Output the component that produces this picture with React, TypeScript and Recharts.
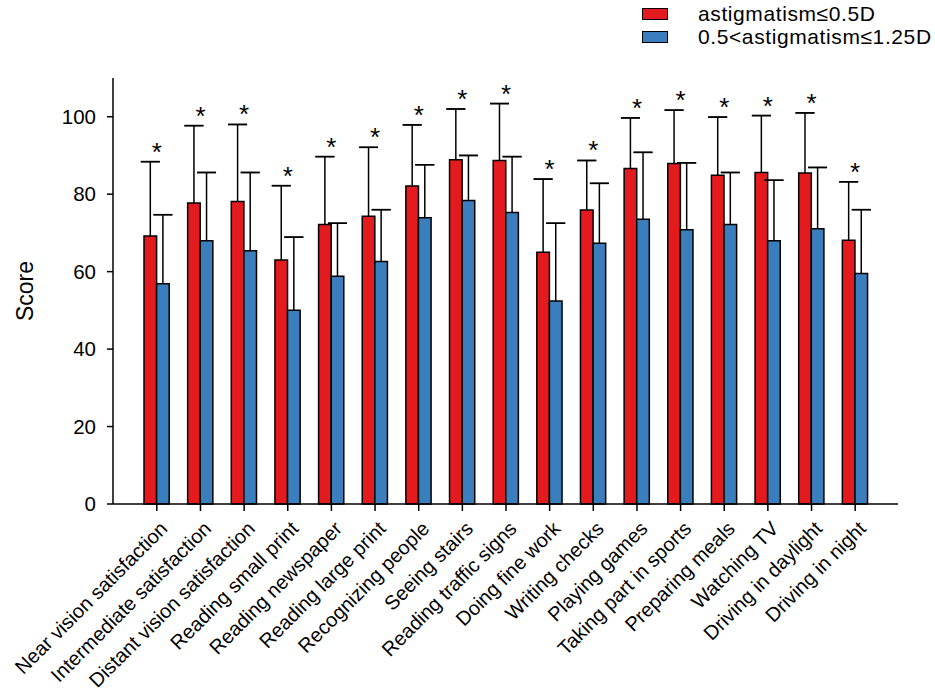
import React from 'react';
import { ComposedChart, Bar, Line, XAxis, YAxis, ErrorBar, LabelList } from 'recharts';

const categories = [
  'Near vision satisfaction',
  'Intermediate satisfaction',
  'Distant vision satisfaction',
  'Reading small print',
  'Reading newspaper',
  'Reading large print',
  'Recognizing people',
  'Seeing stairs',
  'Reading traffic signs',
  'Doing fine work',
  'Writing checks',
  'Playing games',
  'Taking part in sports',
  'Preparing meals',
  'Watching TV',
  'Driving in daylight',
  'Driving in night',
];

const lowMean = [69.2, 77.7, 78.1, 63.0, 72.2, 74.3, 82.1, 88.9, 88.7, 65.0, 75.9, 86.6, 87.9, 84.9, 85.6, 85.5, 68.1];
const lowSD = [19.2, 20.0, 19.9, 19.2, 17.5, 17.8, 15.8, 13.1, 14.7, 18.9, 12.8, 13.1, 13.8, 15.0, 14.7, 15.5, 15.1];
const highMean = [56.9, 68.0, 65.4, 50.0, 58.8, 62.6, 73.9, 78.4, 75.3, 52.4, 67.3, 73.5, 70.8, 72.2, 68.0, 71.1, 59.5];
const highSD = [17.8, 17.6, 20.2, 18.9, 13.7, 13.4, 13.7, 11.6, 14.4, 20.1, 15.5, 17.3, 17.3, 13.4, 15.6, 15.8, 16.5];

const yTicks = [0, 20, 40, 60, 80, 100];
const seriesNames = ['astigmatism≤0.5D', '0.5<astigmatism≤1.25D'];
const seriesColors = ['#E41B1E', '#3A7EBE'];

const data = categories.map((name, i) => ({
  name,
  low: lowMean[i],
  high: highMean[i],
  lowCap: [-lowSD[i], lowSD[i]],
  lowLine: [0, lowSD[i]],
  highCap: [-highSD[i], highSD[i]],
  highLine: [0, highSD[i]],
  star: lowMean[i] + lowSD[i],
}));

const FONT = '"Liberation Sans", Arial, sans-serif';

const XTick = (props: any) => {
  const { x, y, payload } = props;
  const tx = x + 2;
  const ty = y + 7;
  return (
    <text
      x={tx}
      y={ty}
      transform={`rotate(-45, ${tx}, ${ty})`}
      textAnchor="end"
      fontSize={20}
      fontFamily={FONT}
      fill="#000"
      dy="0.7em"
    >
      {payload.value}
    </text>
  );
};

const LegendBox = () => (
  <div style={{ fontFamily: FONT, fontSize: 21, color: '#000', letterSpacing: 0.6 }}>
    {seriesNames.map((n, i) => (
      <div key={n} style={{ display: 'flex', alignItems: 'center', height: 23.5 }}>
        <div
          style={{
            width: 24,
            height: 10,
            background: seriesColors[i],
            border: '1.5px solid #000',
            marginRight: 30,
          }}
        />
        <span>{n}</span>
      </div>
    ))}
  </div>
);

export default function App() {
  return (
    <div style={{ position: 'absolute', left: 0, top: 0, width: 935, height: 698, background: '#fff' }}>
      <div style={{ position: 'absolute', left: 642, top: 2 }}>
        <LegendBox />
      </div>
      <ComposedChart
        width={935}
        height={698}
        data={data}
        margin={{ top: 78, right: 37, bottom: 0, left: 0 }}
        barGap={0}
        barSize={12.6}
      >
        <XAxis
          dataKey="name"
          interval={0}
          height={194}
          padding={{ left: 22, right: 21 }}
          tick={<XTick />}
          tickLine={{ stroke: '#000', strokeWidth: 1.5 }}
          tickSize={7}
          axisLine={{ stroke: '#000', strokeWidth: 1.5 }}
        />
        <YAxis
          domain={[0, 110]}
          ticks={yTicks}
          width={113}
          tickSize={6}
          tickMargin={11}
          tick={{ fontSize: 20.5, fontFamily: FONT, fill: '#000' }}
          tickLine={{ stroke: '#000', strokeWidth: 1.5 }}
          axisLine={{ stroke: '#000', strokeWidth: 1.5 }}
          label={{
            value: 'Score',
            angle: -90,
            position: 'center',
            dx: -32,
            style: { fontSize: 23, fontFamily: FONT, fill: '#000' },
          }}
        />
        <Bar dataKey="low" fill={seriesColors[0]} stroke="#000" strokeWidth={1.5} isAnimationActive={false}>
          <ErrorBar dataKey="lowCap" width={9.5} stroke="#000" strokeWidth={1.5} />
          <ErrorBar dataKey="lowLine" width={0} stroke="#000" strokeWidth={1.5} />
        </Bar>
        <Bar dataKey="high" fill={seriesColors[1]} stroke="#000" strokeWidth={1.5} isAnimationActive={false}>
          <ErrorBar dataKey="highCap" width={9.5} stroke="#000" strokeWidth={1.5} />
          <ErrorBar dataKey="highLine" width={0} stroke="#000" strokeWidth={1.5} />
        </Bar>
        <Line
          dataKey="star"
          stroke="none"
          dot={false}
          activeDot={false}
          isAnimationActive={false}
          legendType="none"
        >
          <LabelList
            dataKey="star"
            position="top"
            offset={-2}
            content={(p: any) => (
              <text
                x={p.x}
                y={p.y - 1}
                textAnchor="middle"
                fontSize={26}
                fontFamily={FONT}
                fill="#000"
              >
                *
              </text>
            )}
          />
        </Line>
      </ComposedChart>
    </div>
  );
}
